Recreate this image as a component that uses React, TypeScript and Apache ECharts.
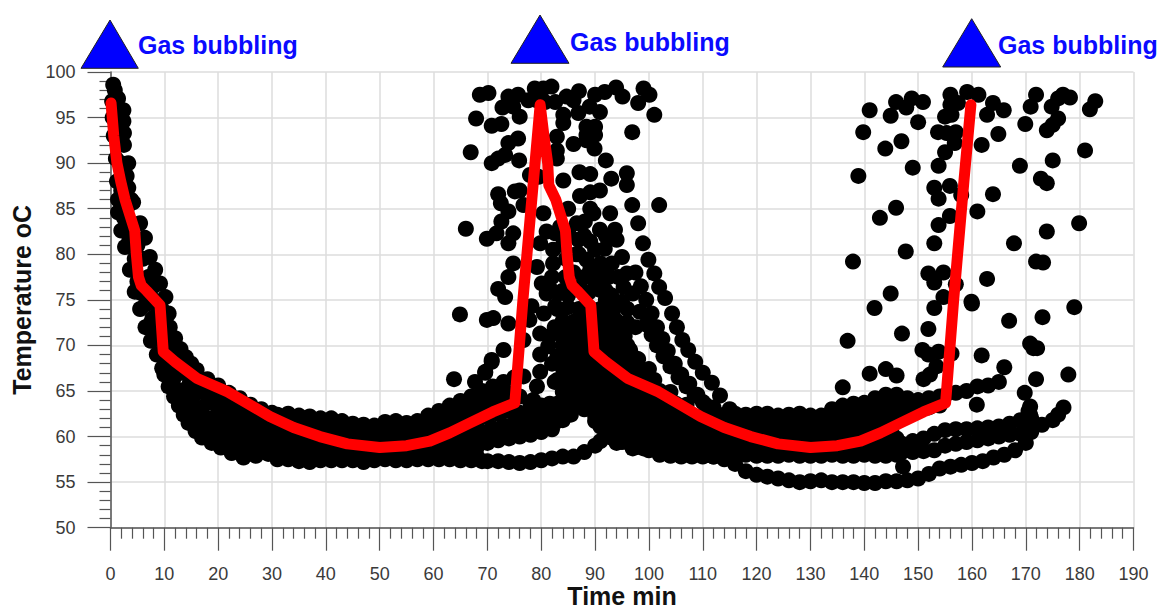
import React, { useEffect, useRef } from "react";
import * as echarts from "echarts";

type P = [number, number];

const xTicks = [0, 190];
const yTicks = [50, 100];
const markerText = "Gas bubbling";

const redLine: P[] = [[0.1,96.6],[0.6,93],[1.2,90],[1.9,88],[2.7,86],[3.6,84.3],[4.5,82.6],[4.8,80],[5.2,77.5],[5.7,76.6],[6.7,76],[9.2,74.4],[9.8,69.3],[12,68.2],[16,66.4],[21.8,64.9],[25,63.8],[29.6,62.2],[34,61],[38.9,60],[44,59.2],[50,58.8],[55,59],[59.3,59.5],[63,60.4],[66.8,61.5],[71,62.7],[75.1,63.7],[76.6,75],[79.8,96.4],[80.5,93],[81.2,90],[81.4,87.6],[82.7,86],[83.6,84.3],[84.5,82.6],[84.8,80],[85.2,77.5],[85.7,76.6],[86.7,76],[89.2,74.4],[89.8,69.3],[92,68.2],[96,66.4],[101.8,64.9],[105,63.8],[109.6,62.2],[114,61],[118.9,60],[124,59.2],[130,58.8],[135,59],[139.3,59.5],[143,60.4],[146.8,61.5],[151,62.7],[155.1,63.7],[156.6,75],[158.5,88],[159.8,96.4]];

const decayUpper: P[] = [[0.5,98.6],[0.8,98],[1.4,97.1],[2.4,95.8],[2.4,94.6],[2.5,93.3],[2.5,92],[3.3,90],[3,88.6],[3.3,87.3],[4.2,85.7],[5.5,83.4],[6.4,81.8],[7.3,79.7],[8.3,78.3],[9.2,76.8],[10.2,75.3],[10.8,73.5],[11,72],[12,70.8],[13,69.6],[14,68.7],[15,68],[16,67.3],[18,66.3],[20,65.6],[22,64.8],[24,64.2],[26,63.5],[28,63],[30,62.6]];
const decayLower: P[] = [[0.3,96.8],[0.4,95],[0.6,93],[1,90.5],[1.2,88],[1.4,86],[1.4,84.6],[2,82.6],[2.7,80.8],[3.6,78.3],[4.5,75.9],[5.5,74],[6.5,72],[7.5,70.5],[8.6,69],[9.6,67.5],[10.8,65.5],[11.8,64.4],[12.7,63.4],[13.6,62.4],[14.5,61.5],[15.8,60.6],[17,59.9],[18.8,59.3],[20.5,58.8],[22.5,58.2],[24.7,57.7],[27,57.9],[29.3,58.1]];
const decayMidA: P[] = [[3,85],[4,82],[5,79.5],[6,77],[6.8,75],[7.8,73],[8.8,71],[9.8,69.5],[10.8,68],[11.8,66.5],[13,65],[14.2,63.8],[15.5,62.8],[17,62],[19,61],[21,60.3],[23,59.8],[25,59.5],[27,59.3],[29,59.2]];
const decayMidB: P[] = [[7,77],[8,75],[9,73],[10,71.5],[11,70],[12,68.5],[13.3,67],[14.7,65.8],[16,64.8],[18,63.7],[20,62.8],[22,62],[24,61.4],[26,60.8],[28,60.5],[30,60.3]];
const decayMidC: P[] = [[13,68],[14,67.3],[15,66.7],[17,65.6],[19,64.8],[21,64],[23,63.2],[25,62.5],[27,62],[29,61.5]];
const decayMidD: P[] = [[15,64],[17,63.2],[19,62],[21,61.5],[23,60.8],[25,60.3],[27,60.2],[16,61],[18,60.2],[20,59.8],[22,59.2],[24,58.7],[26,58.6],[28,58.7],[30,58.4]];
const decayExtra: P[] = [[2,90],[2,87],[2.5,84],[3.5,81.5],[4.5,79.5],[5,77],[5.5,75.8],[4,83],[5,81],[6,79.5],[7,77.5],[8,76.5],[8.5,74.5],[7.5,72.5],[8.5,71.5],[9.5,71],[6.5,74.5],[9.5,74],[1.5,92],[1.5,94],[1.2,96],[3.8,86],[2.8,83],[10,66.8],[11,67],[12,65.3],[13,64],[14,62.6],[15,62],[16,63],[18,62],[20,61],[22,60.6],[24,60],[26,59.8],[28,59.8],[12,67.5],[14,65.2],[16,65.8],[18,64.8],[20,63.8],[22,63],[24,62.6],[26,62],[28,61.8],[17,61],[19,60],[21,59.4],[23,58.9],[25,58.6],[27,58.7],[29,59]];

const bandRowA: P[] = [[31,62.4],[33,62.5],[35,62.3],[37,62.2],[39,62],[41,62],[43,61.7],[45,61.4],[47,61.3],[49,61.2],[51,61.6],[53,61.7],[55,61.5],[57,61.7],[59,62.3],[61,62.8],[63,63.4],[65,63.9],[67,64.4],[69,65],[71,65.5],[73,66],[75,66.5]];
const bandRowB: P[] = [[32,61],[34,61],[36,60.9],[38,60.8],[40,60.7],[42,60.6],[44,60.4],[46,60.3],[48,60.2],[50,60.2],[52,60.3],[54,60.3],[56,60.4],[58,60.6],[60,60.9],[62,61.3],[64,61.8],[66,62.3],[68,62.9],[70,63.5],[72,64],[74,64.4],[76,64.4],[78,63.6],[80,63.4],[82,63.2]];
const bandRowC: P[] = [[31,59.6],[33,59.6],[35,59.5],[37,59.4],[39,59.4],[41,59.4],[43,59.3],[45,59.3],[47,59.2],[49,59.2],[51,59.2],[53,59.3],[55,59.3],[57,59.4],[59,59.5],[61,59.6],[63,59.8],[65,60],[67,60.2],[69,60.5],[71,60.9],[73,61.2],[75,61.4],[77,61.6],[79,61.8],[81,62],[83,62.3],[85,62.6]];
const bandRowD: P[] = [[32,58.4],[34,58.3],[36,58.3],[38,58.3],[40,58.2],[42,58.3],[44,58.2],[46,58.2],[48,58.2],[50,58.2],[52,58.2],[54,58.2],[56,58.2],[58,58.3],[60,58.3],[62,58.3],[64,58.4],[66,58.4],[68,58.8],[70,59.3],[72,59.6],[74,59.8],[76,60],[78,60.2],[80,60.5],[82,60.8],[84,61.8],[85.5,62.4]];
const bandRowE: P[] = [[31,57.5],[33,57.5],[35,57.3],[37,57.2],[39,57.4],[41,57.4],[43,57.4],[45,57.4],[47,57.2],[49,57.4],[51,57.5],[53,57.4],[55,57.4],[57,57.5],[59,57.5],[61,57.5],[63,57.5],[65,57.4],[67,57.4],[69,57.3],[70,57.3],[72,57.3],[74,57.2],[76,57.1],[78,57.2],[80,57.4],[82,57.6],[84,57.8],[86,57.8],[88,58.3],[90,59],[91,59.5],[92,60.2],[93,60.8]];
const bandFillA: P[] = [[31,61.7],[33,61.7],[35,61.7],[37,61.5],[39,61.4],[41,61.3],[43,61],[45,60.9],[47,60.8],[49,60.8],[51,60.9],[53,61],[55,61],[57,61.1],[59,61.5],[61,62],[63,62.6],[65,63],[67,63.6],[69,64.2],[71,64.7],[73,65.2]];
const bandFillB: P[] = [[32,60.2],[34,60.2],[36,60.2],[38,60.1],[40,60],[42,60],[44,59.8],[46,59.8],[48,59.7],[50,59.7],[52,59.8],[54,59.8],[56,59.8],[58,60],[60,60.2],[62,60.5],[64,60.9],[66,61.2],[68,61.6],[70,62.1],[72,62.5],[74,62.8],[76,62.6],[78,62.6],[80,62.8],[82,62.6]];
const bandFillC: P[] = [[31,58.9],[33,58.9],[35,58.9],[37,58.8],[39,58.8],[41,58.8],[43,58.7],[45,58.7],[47,58.7],[49,58.7],[51,58.7],[53,58.7],[55,58.8],[57,58.8],[59,58.9],[61,58.9],[63,59.1],[65,59.2],[67,59.4],[69,59.9],[71,60.2],[73,60.5],[75,60.7],[77,60.9],[79,61.1],[81,61.4],[83,61.7]];
const bandFillD: P[] = [[32,57.8],[34,57.8],[36,57.8],[38,57.8],[40,57.8],[42,57.8],[44,57.8],[46,57.7],[48,57.8],[50,57.8],[52,57.8],[54,57.8],[56,57.8],[58,57.9],[60,57.9],[62,57.9],[64,57.9],[66,57.9],[68,57.9]];

const outerCurve: P[] = [[96.9,85.4],[98,83.4],[98.9,81.2],[99.9,79.4],[101,77.9],[101.9,76.4],[103,75.2],[104.3,73.5],[105.2,72],[106.2,70.6],[107.3,69.5],[108.6,68.2],[110,67],[111.7,65.9],[113.2,64.5],[115,63]];
const innerCurve: P[] = [[97,75.7],[98.3,73.7],[99.5,72.3],[100.5,71.2],[101.5,70],[102.7,68.8],[104,67.7],[105.5,66.5],[107,65.5],[108.5,64.5],[110,63.8],[112,63.2]];
const innerTwin: P[] = [[97.5,78],[98.5,76.5],[99.5,75],[100.5,73.5],[101.5,72],[102.5,70.7],[103.5,69.4],[104.8,68],[106,66.8],[107.5,65.8],[109,64.6],[110.5,63.5]];
const thirdCurve: P[] = [[92,76],[93.3,73.7],[94.5,72],[95.5,71],[96.5,69.5],[98,68.5],[100,66.5],[102,65],[104,64],[106,63]];

const peakCloud: P[] = [[68.6,97.5],[70.2,97.7],[67.9,94.9],[66.9,91.2],[70.8,94.1],[72.6,94.3],[73.9,97.3],[75.7,97.5],[72.8,96.1],[74.8,96.2],[76,95.1],[73.9,92.2],[75.7,92.7],[70.8,90],[72,90.5],[73.3,90.9],[75.9,90.3],[77.9,88.7],[79.5,88.5],[78.8,98.2],[80.4,98.2],[81.9,98.4],[77.6,96.9],[79.2,96.9],[80.7,96.7],[82.6,96.7],[84.7,97.3],[87,97.9],[86,96.9],[90,97.5],[91.8,97.8],[93.9,98.3],[95.1,97.3],[99,98.2],[100.1,97.5],[98,96.6],[101,95.3],[96.9,93.4],[90.9,95.6],[89,96.2],[84.1,95.3],[84.1,94.4],[86.9,95.5],[88.4,94],[90,94],[88.4,93.1],[90,93.1],[82.9,92.9],[86,92.1],[88.4,92.5],[89.9,91.6],[82.9,91.4],[82.9,90.5],[92,90.3],[87.1,89],[89.1,88.8],[84.1,88.1],[95.9,88.9],[95.9,87.6],[93,88.3],[75.1,86.9],[76,87],[72,86.6],[72.5,85.6],[90.9,87],[89.1,86.8],[87.2,86.4],[101.9,85.4],[73.9,84.7],[76.7,85.4],[85,85],[89.1,85],[72.6,83.6],[80.4,84.5],[89.7,84.5],[92.8,84.5],[66,82.8],[69.9,81.7],[71.7,82.3],[73.9,81.2],[74.8,82.3],[81,82.5],[82.6,82.3],[86.6,83.4],[88.1,83.6],[90.9,82.7],[93.7,82.7],[94,81.6],[86.9,81.6],[89.1,81.4],[91.8,80.6],[79.8,81.2],[82.2,80.5],[95,79.7],[74.8,79],[79.2,78.6],[82.2,79],[88.4,79.4],[93.1,79],[73.9,77.5],[80.1,76.8],[82,77.5],[89.1,78.3],[94.3,77.5],[95.9,77.9],[72,76.2],[87.2,76.4],[90.9,76.1],[73.3,75.3],[81,75.7],[83.2,75.7],[95.3,76.4],[84.6,79.5],[86,78],[91,78.4],[86.5,80],[84.5,77.5],[91.6,77.2],[93,75.5],[88.8,75.8],[85,75.5],[84,81],[85,82.5],[87,80],[88,82],[90,80.5],[92,82],[83.5,83],[91,79],[92.5,77.5],[90,77],[88,77.5],[86,76.3],[84,76],[82,76],[92,75],[94,74.5],[96,74],[95,74.8],[97.5,72],[96,72.5]];
const riseCloud: P[] = [[64.9,73.4],[63.8,66.3],[67.7,66],[69.6,67],[70.8,68.4],[69.9,72.8],[71.1,73],[73.9,72.4],[73,69.5],[70.8,68.2],[69.6,67.1],[72,65.3],[70.5,64.8],[73.6,64.8],[76.7,70.6],[76.7,66.6],[79.8,71.3],[81.3,69.9],[79.8,69],[79.8,67.1],[79.2,65.5],[81.6,63.6],[78.5,64],[78.2,74.3],[82.6,74.3],[83.8,71.3],[82.5,72],[82,68],[82.5,66],[81.5,71],[77.8,72.8],[80.5,73.5]];

const fillTall: P[] = [[83,74],[85,74.2],[87,74],[89,74.1],[91,74],[93,74.2],[84,72.7],[86,72.6],[88,72.7],[90,72.8],[92,72.6],[94,72.7],[83,71.4],[85,71.3],[87,71.4],[89,71.4],[91,71.3],[93,71.4],[95,71.2],[84,70.1],[86,70],[88,70.1],[90,70.1],[92,70],[94,70],[96,70],[83,68.8],[85,68.8],[87,68.7],[89,68.8],[91,68.8],[93,68.9],[95,68.8],[97,68.8],[84,67.5],[86,67.5],[88,67.4],[90,67.5],[92,67.5],[94,67.4],[96,67.5],[98,67.5],[100,67.4]];
const fillLow: P[] = [[83,66.2],[85,66.2],[87,66.1],[89,66.2],[91,66.2],[93,66.1],[95,66.2],[97,66.2],[99,66.1],[101,66.2],[84,64.9],[86,64.9],[88,64.9],[90,65],[92,64.9],[94,64.9],[96,64.9],[98,64.9],[100,64.9],[102,64.8],[104,64.9],[83,63.6],[85,63.6],[87,63.6],[89,63.7],[91,63.6],[93,63.6],[95,63.6],[97,63.6],[99,63.6],[101,63.6],[103,63.6],[105,63.6],[107,63.5]];

const secondTop: P[] = [[88,63],[90,62.3],[92,62.3],[94,62.4],[96,62.3],[98,62.3],[100,62.3],[102,62.3],[104,62.3],[106,62.4],[108,62.3],[110,62.3],[112,62.4],[114,62.4],[116,62.5],[118,62.4],[120,62.5],[122,62.5],[124,62.3],[126,62.4],[128,62.5],[130,62.3],[132,62.3],[134,63],[136,63.4],[138,63.6],[140,63.7],[142,64.2],[144,64.6],[146,64.6],[148,64.2],[150,64],[152,64.2],[154,64.4]];
const secondB: P[] = [[91,61.1],[93,61.2],[95,61.1],[97,61.1],[99,61.1],[101,61.1],[103,61.1],[105,61.1],[107,61.1],[109,61.1],[111,61.1],[113,61.1],[115,61.1],[117,61.1],[119,61.1],[121,61.1],[123,61.1],[125,61.1],[127,61.1],[129,61.1],[131,61.1],[133,61.2],[135,61.4],[137,61.7],[139,62],[141,62.3],[143,62.6],[145,62.5],[146,62.3],[148,62.8],[150,63],[152,63.2],[154,63.4]];
const secondC: P[] = [[93,59.9],[95,60],[97,59.9],[99,59.9],[101,59.9],[103,59.9],[105,59.9],[107,59.9],[109,59.9],[111,59.9],[113,59.9],[115,59.9],[117,59.9],[119,59.9],[121,59.9],[123,59.9],[125,59.9],[127,59.9],[129,59.9],[131,59.9],[133,59.9],[135,59.9],[137,60],[139,60.1],[141,60.3],[143,60.5],[145,60.7]];
const secondD: P[] = [[95,59.4],[96,59.4],[98,59],[100,58.5],[102,58],[104,57.9],[106,57.8],[108,57.8],[110,57.8],[112,57.8],[97,58.7],[99,58.7],[101,58.7],[103,58.7],[105,58.7],[107,58.7],[109,58.7],[111,58.7],[113,58.7],[115,58.7],[117,58.7],[119,58.7],[121,58.7],[123,58.7],[125,58.7],[127,58.7],[129,58.7],[131,58.7],[133,58.7],[135,58.7],[137,58.7],[139,58.7],[141,58.7],[143,58.7],[145,58.8],[147,58.8]];
const secondE: P[] = [[114,58],[116,58],[118,58],[120,57.9],[122,57.9],[124,57.9],[126,58],[128,57.9],[130,57.9],[132,57.9],[134,58],[136,57.9],[138,57.9],[140,58],[142,57.9],[144,57.9],[146,58],[147.2,56.7]];
const secondFillA: P[] = [[90,61.7],[92,61.7],[94,61.7],[96,61.7],[98,61.7],[100,61.7],[102,61.7],[104,61.7],[106,61.7],[108,61.7],[110,61.7],[112,61.8],[114,61.8],[116,61.8],[118,61.8],[120,61.8],[122,61.8],[124,61.7],[126,61.7],[128,61.8],[130,61.7],[132,61.8],[134,62.1],[136,62.5],[138,62.8],[140,63],[142,63.4],[144,63.6],[146,63.5],[148,63.5],[150,63.6],[152,63.7]];
const secondFillB: P[] = [[92,60.5],[94,60.5],[96,60.5],[98,60.5],[100,60.5],[102,60.5],[104,60.5],[106,60.5],[108,60.5],[110,60.5],[112,60.5],[114,60.5],[116,60.5],[118,60.5],[120,60.5],[122,60.5],[124,60.5],[126,60.5],[128,60.5],[130,60.5],[132,60.5],[134,60.6],[136,60.7],[138,61],[140,61.2],[142,61.4],[144,61.6]];
const secondFillC: P[] = [[94,59.3],[98,59.3],[100,59.3],[102,59.3],[104,59.3],[106,59.3],[108,59.3],[110,59.3],[112,59.3],[114,59.3],[116,59.3],[118,59.3],[120,59.3],[122,59.3],[124,59.3],[126,59.3],[128,59.3],[130,59.3],[132,59.3],[134,59.3],[136,59.3],[138,59.4],[140,59.5],[142,59.6],[144,59.7],[146,59.8]];
const strandD: P[] = [[112,57.8],[114,57.5],[116,57],[118,56.2],[120,55.8],[122,55.6],[124,55.4],[126,55.2],[128,55],[130,55.1],[132,55.2],[134,55],[136,55],[138,55],[140,54.9],[142,54.9],[144,55.1],[146,55.1],[148,55.2],[150,55.4],[152,55.9],[154,56.5],[156,56.7],[158,56.9],[160,57.1],[162,57.3],[164,57.7],[166,58],[168,58.5],[170,59.3],[170.5,60.5],[171,62]];
const strandB1: P[] = [[147,59.2],[149,59.5],[151,59.8],[153,60.3],[155,60.7],[157,60.8],[159,60.8],[161,60.9],[163,61],[165,61.1],[167,61.4],[169,61.8],[170.5,62.8]];
const strandB2: P[] = [[147,58.3],[149,58.3],[151,58.4],[153,58.5],[155,59],[157,59.2],[159,59.4],[161,59.6],[163,59.8],[165,60],[167,60.2],[169,60.3],[171,60.5]];
const strandTail: P[] = [[171,61.2],[173,61.3],[175,61.8],[176,62.4],[177,63.2],[169.8,64.8],[170.8,63.3],[170.8,62.4],[155,64.5],[157,64.8],[159,65],[161,65.5],[163,65.6],[165,66],[160.9,63.5]];

const lastCloud: P[] = [[141,95.8],[139.8,93.4],[138.9,88.6],[137.9,79.2],[144.9,95.2],[145.9,96.7],[147.8,96.1],[148.8,97.1],[150.9,96.7],[150,94.5],[143.9,91.6],[146.9,92.4],[149,89.5],[145.9,85.1],[142.9,84],[147.7,80.3],[144.9,75.7],[153.7,93.4],[155,95.1],[156.2,95.3],[156,97.5],[156,96.4],[157.4,96.6],[159.1,97.8],[161.2,97.5],[155.3,93.3],[157,93.4],[156.8,92.2],[155,91.2],[153.8,89.7],[161.8,92],[164.9,93.2],[162.8,95.3],[163.9,96.6],[165.9,95.8],[168.9,89.7],[169.9,94.3],[170.9,96.2],[171.9,97.5],[173.9,93.6],[175,94.2],[176,94.9],[174.8,96.2],[176,97.1],[176.9,97.5],[178.2,97.2],[175,90.3],[181,91.4],[181.9,95.9],[182.9,96.8],[172.8,88.3],[173.9,87.8],[153,87.3],[155.9,87.5],[153.8,86.1],[158,86.5],[163.9,86.6],[155.9,84.2],[161,84.7],[153.8,83.2],[173.9,82.5],[179.9,83.4],[153,81.2],[167.8,81.2],[171.9,79.2],[173.2,79.1],[151.9,77.9],[154.7,78],[153,76.9],[157,76.7],[162.8,77.3],[154.7,75.3],[159.9,74.8],[136,65.4],[141,66.9],[144,67.4],[146,66.7],[151,66.3],[152.2,66.8],[153.4,67.7],[150.8,69.5],[151.9,69],[153.8,69.3],[156.2,69.1],[161.8,68.9],[166,67.6],[171.9,66.3],[177.9,66.8],[171.4,69.7],[170.8,70.2],[172.1,69.7],[136.9,70.5],[147,71.3],[151.9,71.8],[166.9,72.7],[173.1,73.1],[179,74.2],[141.9,74.1],[153,74.1],[160,74.6]];

const blackGroups: P[][] = [decayUpper, decayLower, decayMidA, decayMidB, decayMidC, decayMidD, decayExtra, bandRowA, bandRowB, bandRowC, bandRowD, bandRowE, bandFillA, bandFillB, bandFillC, bandFillD, outerCurve, innerCurve, innerTwin, thirdCurve, peakCloud, riseCloud, fillTall, fillLow, secondTop, secondB, secondC, secondD, secondE, secondFillA, secondFillB, secondFillC, strandD, strandB1, strandB2, strandTail, lastCloud];

const blueTriangles: P[][] = [
  [[110, 20], [81, 68.3], [138.3, 68.3]],
  [[540, 15], [511, 63.3], [569, 63.3]],
  [[971.7, 18.7], [942.7, 67], [1000.7, 67]],
];
const bubbleLabels: P[] = [[138, 45], [570, 42], [998, 45]];

export default function App() {
  const ref = useRef<HTMLDivElement>(null);
  useEffect(() => {
    const chart = echarts.init(ref.current!, null, { renderer: "svg" });
    const axisFont = { color: "#3a3a3a", fontSize: 18, fontFamily: "Liberation Sans" };
    const nameFont = { color: "#111", fontSize: 25, fontWeight: "bold" as const, fontFamily: "Liberation Sans" };
    const common = {
      type: "value" as const,
      axisLine: { show: true, onZero: false, lineStyle: { color: "#555", width: 1.5 } },
      axisTick: { show: true, length: 23, lineStyle: { color: "#555", width: 1.2 } },
      minorTick: { show: true, splitNumber: 5, length: 11, lineStyle: { color: "#555", width: 1.2 } },
      splitLine: { show: true, lineStyle: { color: "#dcdcdc", width: 1.5 } },
      nameLocation: "middle" as const,
      nameMoveOverlap: false,
      nameTextStyle: nameFont,
    };
    chart.setOption({
      animation: false,
      backgroundColor: "#ffffff",
      grid: { left: 110.5, right: 29.5, top: 72, bottom: 83.3, containLabel: false, outerBoundsMode: "none" },
      xAxis: {
        ...common,
        min: xTicks[0],
        max: xTicks[1],
        interval: 10,
        name: "Time min",
        nameGap: 56,
        axisLabel: { ...axisFont, margin: 37 },
      },
      yAxis: {
        ...common,
        min: yTicks[0],
        max: yTicks[1],
        interval: 5,
        name: "Temperature oC",
        nameGap: 76,
        axisLabel: { ...axisFont, margin: 35 },
      },
      series: [
        ...blackGroups.map((data) => ({
          type: "scatter",
          data,
          symbol: "circle",
          symbolSize: 16,
          clip: false,
          silent: true,
          itemStyle: { color: "#000000", opacity: 1 },
          z: 3,
        })),
        {
          type: "line",
          data: redLine,
          symbol: "none",
          smooth: false,
          clip: false,
          lineStyle: { color: "#ff0000", width: 11, cap: "round", join: "round" },
          z: 5,
        },
      ],
      graphic: [
        ...blueTriangles.map((points) => ({
          type: "polygon",
          shape: { points },
          style: { fill: "#0000ff", stroke: "#222", lineWidth: 1 },
        })),
        ...bubbleLabels.map(([x, y]) => ({
          type: "text",
          x,
          y,
          style: {
            text: markerText,
            fill: "#0a0aff",
            fontSize: 25,
            fontWeight: "bold",
            fontFamily: "Liberation Sans",
            verticalAlign: "middle",
            align: "left",
          },
        })),
      ],
    });
    return () => chart.dispose();
  }, []);
  return <div ref={ref} style={{ position: "fixed", left: 0, top: 0, width: 1163, height: 611 }} />;
}
